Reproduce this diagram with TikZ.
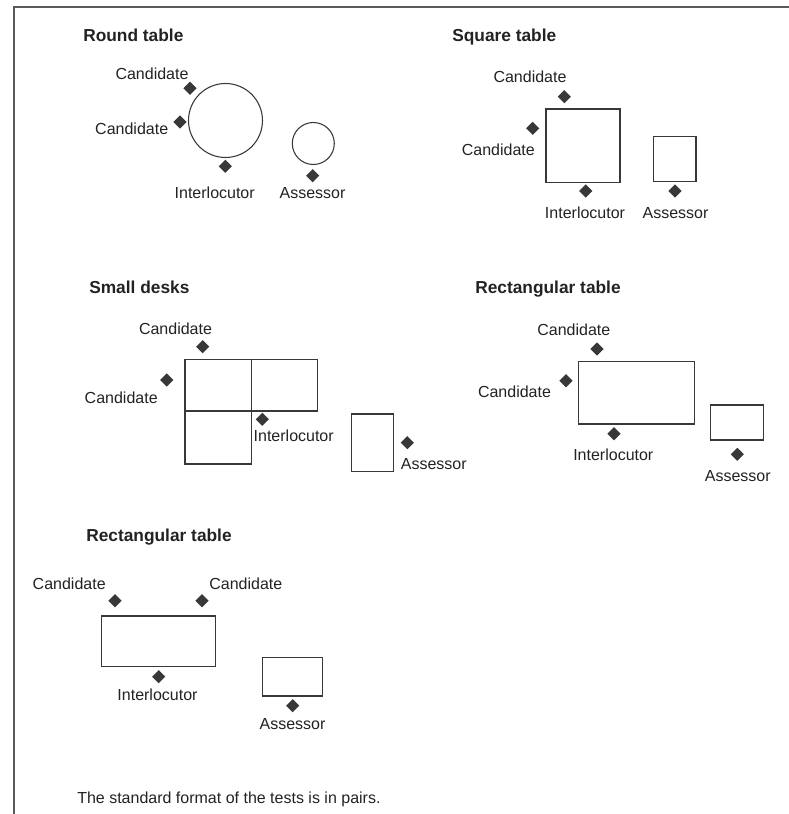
\documentclass[tikz,border=0pt]{standalone}
\usepackage{fontspec}
\setmainfont{Liberation Sans}
\usepackage{tikz}
\usetikzlibrary{shapes.geometric}
\usepackage{xcolor}
\definecolor{inkgray}{HTML}{383838}
\definecolor{framegray}{HTML}{5A5A5A}
\definecolor{textgray}{HTML}{222222}

\tikzset{
  seat/.style={diamond, fill=inkgray, inner sep=0pt, minimum width=10pt, minimum height=10pt},
  who/.style={font=\fontsize{12}{14}\selectfont, text=textgray, inner sep=0pt},
  heading/.style={font=\fontsize{13}{15}\selectfont\bfseries, text=textgray, inner sep=0pt, anchor=base west},
  desk/.style={draw=inkgray, line width=0.8pt}
}

\begin{document}
\begin{tikzpicture}[x=0.75pt, y=-0.75pt]
    \useasboundingbox (0,0) rectangle (789,814);
    % frame
    \draw[framegray, line width=1.5pt] (14,814) -- (14,7) -- (789,7);

    % Round table
    \node[heading] (roundtitle) at (83,41.5) {Round table};
    \draw[desk] (225.5,120.5) circle[radius=27.75pt];
    \draw[desk] (313.3,143.5) circle[radius=15.75pt];
    \node[seat] (rcand1) at (190,88.3) {};
    \node[seat] (rcand2) at (180,122) {};
    \node[seat] (rinter) at (225.3,166.3) {};
    \node[seat] (rassess) at (312.7,175.7) {};
    \node[who] (rcand1lab) at (152,73.3) {Candidate};
    \node[who] (rcand2lab) at (131.7,129) {Candidate};
    \node[who] (rinterlab) at (214.7,192.7) {Interlocutor};
    \node[who] (rassesslab) at (312.5,192.7) {Assessor};

    % Square table
    \node[heading] (squaretitle) at (452,41) {Square table};
    \draw[desk] (546,109) rectangle (620,182.5);
    \draw[desk] (653.5,136.3) rectangle (696,181.5);
    \node[seat] (scand1) at (564.3,96.7) {};
    \node[seat] (scand2) at (532.7,128.3) {};
    \node[seat] (sinter) at (585.7,191) {};
    \node[seat] (sassess) at (675,191) {};
    \node[who] (scand1lab) at (530,76.7) {Candidate};
    \node[who] (scand2lab) at (498.3,150) {Candidate};
    \node[who] (sinterlab) at (585,212.7) {Interlocutor};
    \node[who] (sassesslab) at (675.5,212.7) {Assessor};

    % Small desks
    \node[heading] (desktitle) at (89,293) {Small desks};
    \draw[desk] (185,359.3) rectangle (251.7,411);
    \draw[desk] (251.7,359.3) rectangle (317.3,411);
    \draw[desk] (185,411) rectangle (251.7,464);
    \draw[desk] (351.7,414) rectangle (393.3,471.7);
    \node[seat] (dcand1) at (202.7,346.7) {};
    \node[seat] (dcand2) at (166.7,380) {};
    \node[seat] (dinter) at (262.3,419.3) {};
    \node[seat] (dassess) at (407.3,442.7) {};
    \node[who] (dcand1lab) at (175.5,329) {Candidate};
    \node[who] (dcand2lab) at (121.2,397.3) {Candidate};
    \node[who] (dinterlab) at (293.7,436) {Interlocutor};
    \node[who] (dassesslab) at (433.8,464) {Assessor};

    % Rectangular table (right)
    \node[heading] (recttitle) at (475,293) {Rectangular table};
    \draw[desk] (578.7,361.7) rectangle (694.3,424);
    \draw[desk] (710.7,405) rectangle (763.3,440);
    \node[seat] (qcand1) at (597,349) {};
    \node[seat] (qcand2) at (566,380.7) {};
    \node[seat] (qinter) at (614,433.7) {};
    \node[seat] (qassess) at (737.3,454.3) {};
    \node[who] (qcand1lab) at (573.8,329.3) {Candidate};
    \node[who] (qcand2lab) at (514.5,391.7) {Candidate};
    \node[who] (qinterlab) at (613.3,455) {Interlocutor};
    \node[who] (qassesslab) at (737.8,475.7) {Assessor};

    % Rectangular table (bottom)
    \node[heading] (longtitle) at (86,541.5) {Rectangular table};
    \draw[desk] (101.3,616) rectangle (215.7,666.7);
    \draw[desk] (262.3,657.7) rectangle (322.3,696);
    \node[seat] (lcand1) at (115,600.7) {};
    \node[seat] (lcand2) at (202,600.7) {};
    \node[seat] (linter) at (158.7,676.7) {};
    \node[seat] (lassess) at (292.7,705.7) {};
    \node[who] (lcand1lab) at (69.2,583.3) {Candidate};
    \node[who] (lcand2lab) at (245.8,583.3) {Candidate};
    \node[who] (linterlab) at (157.5,694.3) {Interlocutor};
    \node[who] (lassesslab) at (292.5,724) {Assessor};

    \node[who, anchor=base west] (note) at (77,803) {The standard format of the tests is in pairs.};
\end{tikzpicture}
\end{document}
